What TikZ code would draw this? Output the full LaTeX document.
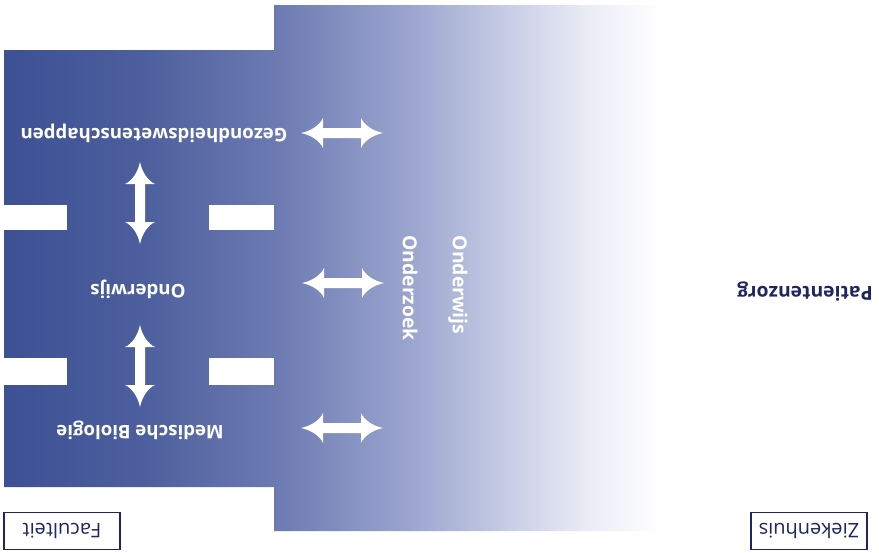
\documentclass[tikz,border=0pt]{standalone}
\usepackage{fontspec}
\setmainfont{Open Sans}
\definecolor{navy}{RGB}{32,36,96}
\definecolor{g0}{RGB}{60,80,148}
\definecolor{g1}{RGB}{76,94,157}
\definecolor{g2}{RGB}{108,122,178}
\definecolor{g3}{RGB}{155,165,207}
\definecolor{g4}{RGB}{200,206,230}
\definecolor{g5}{RGB}{235,237,246}
\begin{document}
\begin{tikzpicture}[x=0.75pt,y=-0.75pt,
  wlab/.style={text=white,font=\bfseries\fontsize{14}{16}\selectfont,rotate=180,inner sep=0pt},
  vlab/.style={text=white,font=\bfseries\fontsize{14.5}{16}\selectfont,rotate=-90,inner sep=0pt},
  dlab/.style={text=navy,font=\bfseries\fontsize{14.5}{16}\selectfont,rotate=180,inner sep=0pt},
  boxlab/.style={draw=navy,line width=0.9pt,text=navy,font=\fontsize{15}{17}\selectfont,rotate=180,minimum width=87pt,minimum height=28pt,inner sep=0pt},
  notch/.style={fill=white},
  dblarrow/.pic={\fill[white] (-41,0) .. controls (-31,-2) and (-22,-8) .. (-19,-15) -- (-19,-5) -- (19,-5) -- (19,-15) .. controls (22,-8) and (31,-2) .. (41,0) .. controls (31,2) and (22,8) .. (19,15) -- (19,5) -- (-19,5) -- (-19,15) .. controls (-22,8) and (-31,2) .. (-41,0) -- cycle;}
]
\useasboundingbox[fill=white] (0,0) rectangle (879,553);
% gradient block
\begin{scope}
\clip (4,50) -- (274,50) -- (274,5) -- (720,5) -- (720,531) -- (274,531) -- (274,487) -- (4,487) -- cycle;
\shade[left color=g0,right color=g1] (0,0) rectangle (140,553);
\shade[left color=g1,right color=g2] (140,0) rectangle (275,553);
\shade[left color=g2,right color=g3] (275,0) rectangle (410,553);
\shade[left color=g3,right color=g4] (410,0) rectangle (510,553);
\shade[left color=g4,right color=g5] (510,0) rectangle (590,553);
\shade[left color=g5,right color=white] (590,0) rectangle (660,553);
\end{scope}
% notches
\fill[notch] (0,205) rectangle (67,230);
\fill[notch] (209,205) rectangle (274,230);
\fill[notch] (0,358) rectangle (67,385);
\fill[notch] (209,358) rectangle (274,385);
% labels
\node[wlab] (gez) at (154,133) {Gezondheidswetenschappen};
\node[wlab] (ond) at (138,289) {Onderwijs};
\node[wlab] (med) at (140,430) {Medische Biologie};
\node[vlab] (vow) at (458,285) {Onderwijs};
\node[vlab] (voz) at (410,288) {Onderzoek};
\node[dlab] (pat) at (805,292) {Patientenzorg};
\node[boxlab] (fac) at (62,531) {Faculteit};
\node[boxlab] (zie) at (809,531) {Ziekenhuis};
% arrows
\coordinate (v1) at (140,203);
\coordinate (v2) at (140,366);
\coordinate (h1) at (342,133);
\coordinate (h2) at (343,283);
\coordinate (h3) at (342,428);
\pic[rotate=90] at (v1) {dblarrow};
\pic[rotate=90] at (v2) {dblarrow};
\pic at (h1) {dblarrow};
\pic at (h2) {dblarrow};
\pic at (h3) {dblarrow};
\end{tikzpicture}
\end{document}
